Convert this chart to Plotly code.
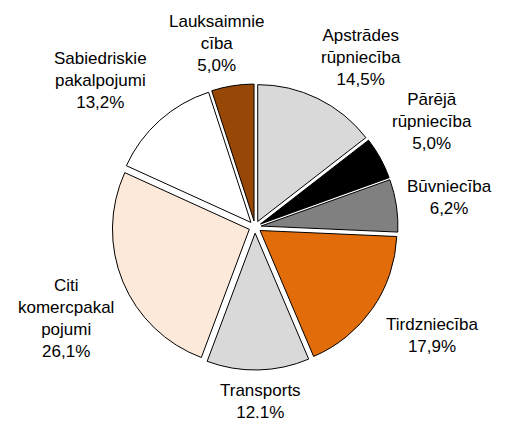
import math
import plotly.graph_objects as go

categories = ["Lauksaimniecība", "Apstrādes rūpniecība", "Pārējā rūpniecība", "Būvniecība",
              "Tirdzniecība", "Transports", "Citi komercpakalpojumi", "Sabiedriskie pakalpojumi"]
values = [5.0, 14.5, 5.0, 6.2, 17.9, 12.1, 26.1, 13.2]
label_text = ["Lauksaimnie<br>cība<br>5,0%", "Apstrādes<br>rūpniecība<br>14,5%",
              "Pārējā<br>rūpniecība<br>5,0%", "Būvniecība<br>6,2%",
              "Tirdzniecība<br>17,9%", "Transports<br>12.1%",
              "Citi<br>komercpakal<br>pojumi<br>26,1%", "Sabiedriskie<br>pakalpojumi<br>13,2%"]
colors = ["#974706", "#D9D9D9", "#000000", "#808080", "#E36C0A", "#D9D9D9", "#FDE9D9", "#FFFFFF"]

ROTATION = -18
PULL = 0.045
FONT_SIZE = 17
FONT = "Liberation Sans, Arial"
W, H = 518, 425
M = dict(l=104, r=128, t=76, b=63)
plot_px = W - M["l"] - M["r"]          # square plot area -> pie domain
label_dist = 152                        # px from centre to label anchor

fig = go.Figure(go.Pie(
    labels=categories, values=values,
    textinfo="none",
    sort=False, direction="clockwise", rotation=ROTATION,
    pull=[PULL] * len(values),
    automargin=False,
    marker=dict(colors=colors, line=dict(color="#000000", width=1)),
    showlegend=False, hoverinfo="label+percent",
))

# outside labels placed at each slice's mid angle (derived from the values)
total = sum(values)
cum = 0.0
annotations = []
for txt, v in zip(label_text, values):
    mid = math.radians(ROTATION + (cum + v / 2) / total * 360)
    cum += v
    s, c = math.sin(mid), math.cos(mid)
    lines = txt.split("<br>")
    w = max(len(l) for l in lines) * 0.52 * FONT_SIZE
    h = len(lines) * 1.3 * FONT_SIZE
    sx = max(-1.0, min(1.0, 2 * s))
    sy = max(-1.0, min(1.0, 2 * c))
    dx = label_dist * s + sx * w / 2
    dy = label_dist * c + sy * h / 2
    annotations.append(dict(
        x=0.5 + dx / plot_px, y=0.5 + dy / plot_px, xref="paper", yref="paper",
        text=txt, showarrow=False, xanchor="center", yanchor="middle", align="center",
        font=dict(family=FONT, size=FONT_SIZE, color="#000000"),
    ))

fig.update_layout(width=W, height=H,
                  margin=dict(**M, autoexpand=False),
                  annotations=annotations,
                  paper_bgcolor="white", plot_bgcolor="white")
fig.write_html("out.html")
